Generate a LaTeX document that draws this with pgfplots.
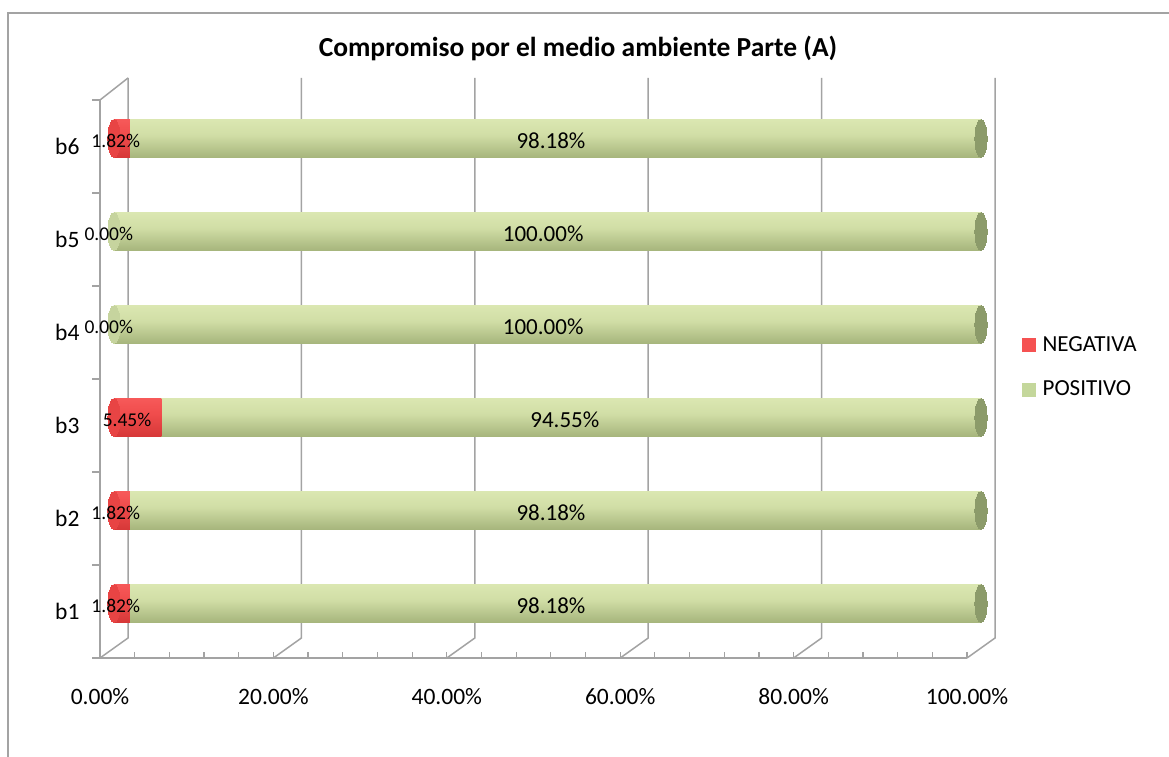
\documentclass[border=0pt]{standalone}
\usepackage{fontspec}
\setmainfont{Carlito}
\usepackage{pgfplots}
\pgfplotsset{compat=1.18}
\definecolor{gridc}{HTML}{A3A3A3}
\definecolor{gA}{HTML}{7C8A58}
\definecolor{gB}{HTML}{A6B57C}
\definecolor{gC}{HTML}{D1DEA6}
\definecolor{gD}{HTML}{DDE9B4}
\definecolor{gE}{HTML}{B7C398}
\definecolor{rA}{HTML}{B02424}
\definecolor{rB}{HTML}{D63838}
\definecolor{rC}{HTML}{F04C4C}
\definecolor{rD}{HTML}{F85C5C}
\definecolor{rE}{HTML}{DE5050}
\definecolor{capg}{HTML}{8C9B6A}
\definecolor{capgl}{HTML}{C6D49E}
\definecolor{capr}{HTML}{E84444}
\definecolor{legr}{HTML}{F55252}
\definecolor{legg}{HTML}{C4D79B}
\pgfdeclareverticalshading{cylg}{100bp}{color(0bp)=(gA); color(25bp)=(gB); color(55bp)=(gC); color(80bp)=(gD); color(93bp)=(gC); color(100bp)=(gE)}
\pgfdeclareverticalshading{cylr}{100bp}{color(0bp)=(rA); color(25bp)=(rB); color(55bp)=(rC); color(80bp)=(rD); color(93bp)=(rC); color(100bp)=(rE)}
\newcommand{\tickfont}{\fontsize{23.5}{28}\selectfont}
\begin{document}
\begin{tikzpicture}[x=1pt,y=1pt]
\useasboundingbox (0,0) rectangle (1169,756);
\draw[gridc, line width=1.3pt] (8,-4) -- (8,743) -- (1173,743);
\node[font=\bfseries\fontsize{27.5}{32}\selectfont] at (578,708) {Compromiso por el medio ambiente Parte (A)};
% frame axis
\begin{axis}[
  at={(100pt,98pt)}, anchor=south west, scale only axis,
  width=867pt, height=558pt,
  xmin=0, xmax=100, ymin=0, ymax=6,
  clip=false,
  axis lines=left,
  axis line style={-, gridc, line width=1.5pt},
  xtick={0,20,40,60,80,100},
  xticklabels={0.00\%,20.00\%,40.00\%,60.00\%,80.00\%,100.00\%},
  minor x tick num=4,
  tick align=inside,
  major tick length=6pt, minor tick length=6pt,
  x tick style={gridc, line width=1.2pt},
  ytick={0.5,1.5,2.5,3.5,4.5,5.5},
  yticklabels={b1,b2,b3,b4,b5,b6},
  y tick style={draw=none},
  xticklabel style={font=\tickfont, yshift=-27pt},
  yticklabel style={font=\tickfont, xshift=-17pt},
  legend style={at={(1.060,0.522)}, anchor=west, draw=none, fill=none,
    font=\fontsize{23}{27}\selectfont, row sep=24pt, /tikz/column sep=5pt},
  legend cell align=left,
  legend image code/.code={\fill[#1] (0pt,-7pt) rectangle (13pt,6pt);},
]
\pgfplotsinvokeforeach{0,20,40,60,80,100}{
  \draw[gridc, line width=1.5pt] (axis cs:#1,0) -- ++(28pt,20pt) -- ++(0pt,560pt);
}
\draw[gridc, line width=1.5pt] (axis cs:0,6) -- ++(28pt,22pt);
\pgfplotsinvokeforeach{0,1,2,3,4,5,6}{
  \draw[gridc, line width=1.3pt] (axis cs:0,#1) -- ++(-8pt,0pt);
}
\addlegendimage{legr}
\addlegendentry{NEGATIVA}
\addlegendimage{legg}
\addlegendentry{POSITIVO}
\end{axis}
% bars axis
\begin{axis}[
  at={(114pt,106pt)}, anchor=south west, scale only axis,
  width=867pt, height=558pt,
  xmin=0, xmax=100, ymin=0, ymax=6,
  hide axis, clip=false,
  bars/.style={xbar, bar width=38pt, bar shift=0pt, draw=none},
  caps/.style={only marks, mark=*, mark size=19pt, mark options={xscale=0.32, fill=#1, draw=#1, line width=0pt}},
]
% left caps
\addplot[caps=capr] coordinates {(0,0.5) (0,1.5) (0,2.5) (0,5.5)};
\addplot[caps=capgl] coordinates {(0,3.5) (0,4.5)};
% positive (drawn from 0 to the total of 100, the negative part covers its start)
\addplot[bars, shading=cylg] coordinates {(100,0.5)};
\addplot[bars, shading=cylg] coordinates {(100,1.5)};
\addplot[bars, shading=cylg] coordinates {(100,2.5)};
\addplot[bars, shading=cylg] coordinates {(100,3.5)};
\addplot[bars, shading=cylg] coordinates {(100,4.5)};
\addplot[bars, shading=cylg] coordinates {(100,5.5)};
% right caps
\addplot[caps=capg] coordinates {(100,0.5) (100,1.5) (100,2.5) (100,3.5) (100,4.5) (100,5.5)};
% negative
\addplot[bars, shading=cylr] coordinates {(1.82,0.5)};
\addplot[bars, shading=cylr] coordinates {(1.82,1.5)};
\addplot[bars, shading=cylr] coordinates {(5.45,2.5)};
\addplot[bars, shading=cylr] coordinates {(1.82,5.5)};
\end{axis}
% labels axis (same geometry, drawn on top)
\begin{axis}[
  at={(114pt,106pt)}, anchor=south west, scale only axis,
  width=867pt, height=558pt,
  xmin=0, xmax=100, ymin=0, ymax=6,
  hide axis, clip=false,
]
\begin{scope}[font=\fontsize{23}{27}\selectfont]
\node at (axis cs:50.4,0.5) [yshift=-2pt] {98.18\%};
\node at (axis cs:50.4,1.5) [yshift=-2pt] {98.18\%};
\node at (axis cs:52.0,2.5) [yshift=-2pt] {94.55\%};
\node at (axis cs:49.5,3.5) [yshift=-2pt] {100.00\%};
\node at (axis cs:49.5,4.5) [yshift=-2pt] {100.00\%};
\node at (axis cs:50.4,5.5) [yshift=-2pt] {98.18\%};
\end{scope}
\begin{scope}[font=\fontsize{19.5}{23}\selectfont]
\node at (axis cs:0.2,0.5) [yshift=-2pt] {1.82\%};
\node at (axis cs:0.2,1.5) [yshift=-2pt] {1.82\%};
\node at (axis cs:1.5,2.5) [yshift=-2pt] {5.45\%};
\node at (axis cs:-0.6,3.5) [yshift=-2pt] {0.00\%};
\node at (axis cs:-0.6,4.5) [yshift=-2pt] {0.00\%};
\node at (axis cs:0.2,5.5) [yshift=-2pt] {1.82\%};
\end{scope}
\end{axis}
\end{tikzpicture}
\end{document}
